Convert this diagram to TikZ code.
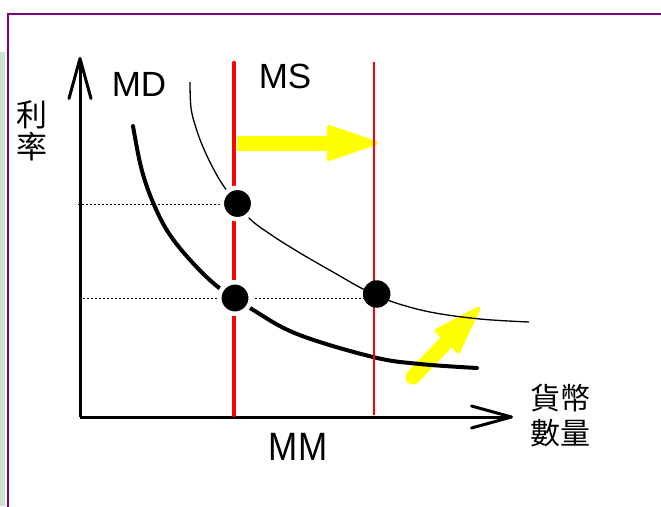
\documentclass[tikz,border=0pt]{standalone}
\usepackage{fontspec}
\setmainfont{Liberation Sans}
\newfontfamily\cjk{Noto Sans CJK TC}
\usetikzlibrary{calc,arrows.meta}
\definecolor{stripgreen}{RGB}{204,228,204}
\definecolor{framepurple}{RGB}{128,0,128}
\definecolor{ylw}{RGB}{255,255,0}
\begin{document}
\begin{tikzpicture}[x=1pt,y=-1pt,
  axisline/.style={line width=3pt,-{Straight Barb[length=40pt,width=22pt,round]}},
  guide/.style={line width=1pt,dash pattern=on 2pt off 2pt},
  mdcurve/.style={line width=4pt,line cap=round,line join=round},
  mscurve/.style={line width=1.3pt},
  msthick/.style={red,line width=4.5pt,line cap=round},
  msthin/.style={red,line width=1.3pt},
  shaft/.style={ylw,line width=15pt},
  head/.style={ylw,fill=ylw,line width=4pt,line join=round},
  bigdot/.style={circle,fill=black,draw=white,line width=4.5pt,minimum size=31.5pt,inner sep=0pt},
  plaindot/.style={circle,fill=black,minimum size=27.5pt,inner sep=0pt},
  lab/.style={font=\fontsize{35}{40}\selectfont,inner sep=0pt}
]
\useasboundingbox (0,0) rectangle (661,506);
\fill[stripgreen] (0,52) rectangle (5,506);
\draw[framepurple,line width=2pt] (7.5,508) -- (7.5,14) -- (663,14);

% yellow arrows
\coordinate (h1) at (237,143);
\coordinate (h2) at (376,143);
\coordinate (h3) at ($(h2)!47pt!(h1)$);
\draw[shaft] (h1) -- ($(h2)!40pt!(h1)$);
\filldraw[head] (h2) -- ($(h3)!16pt!90:(h2)$) -- ($(h3)!16pt!-90:(h2)$) -- cycle;

\coordinate (d1) at (413,377);
\coordinate (d2) at (478.5,308.5);
\coordinate (d3) at ($(d2)!45pt!(d1)$);
\draw[shaft,line cap=round] (d1) -- ($(d2)!38pt!(d1)$);
\filldraw[head] (d2) -- ($(d3)!15pt!90:(d2)$) -- ($(d3)!15pt!-90:(d2)$) -- cycle;

% axes
\coordinate (O) at (80,417);
\coordinate (ytip) at (80,57);
\coordinate (xtip) at (513,417);
\draw[axisline] (O) -- (ytip);
\draw[axisline] (O) -- (xtip);

% dots positions
\coordinate (p1) at (237.5,203.5);
\coordinate (p2) at (235,298);
\coordinate (p3) at (376.7,294);

% dotted guides
\coordinate (g1) at (78,204);
\coordinate (g2) at (79,298);
\draw[guide] (g1) -- (g1 -| p1);
\draw[guide] (g2) -- (g2 -| p3);

% curves
\draw[mdcurve] plot[smooth,tension=0.6] coordinates {(133,126) (141,167) (152,200) (168,232) (191,261) (218,287) (250,308) (297,334) (373,357) (420,364) (477,368)};
\draw[mscurve] plot[smooth,tension=0.6] coordinates {(190,82) (191,108) (196,128) (203,147) (213,168) (225,188) (248,217) (270,234) (300,253) (333,272) (363,289) (390,301) (430,312) (480,319) (529,322)};

% money supply lines
\coordinate (s1t) at (234,63);
\coordinate (s1b) at (234,415);
\coordinate (s2t) at (374,62);
\coordinate (s2b) at (374,415);
\draw[msthick] (s1t) -- (s1b);
\draw[msthin] (s2t) -- (s2b);

% dots
\node[bigdot] (e1) at (p1) {};
\node[bigdot] (e2) at (p2) {};
\node[plaindot] (e3) at (p3) {};

% labels
\node[lab] (md) at (139,84) {MD};
\node[lab] (ms) at (285,76) {MS};
\node[lab,yscale=1.13] (mm) at (298,446.5) {MM};
\node[font=\cjk\fontsize{31}{32}\selectfont,align=center,inner sep=0pt] (rate) at (32,131) {利\\率};
\node[font=\cjk\fontsize{30}{35}\selectfont,align=center,inner sep=0pt] (qty) at (560,415.5) {貨幣\\數量};
\end{tikzpicture}
\end{document}
